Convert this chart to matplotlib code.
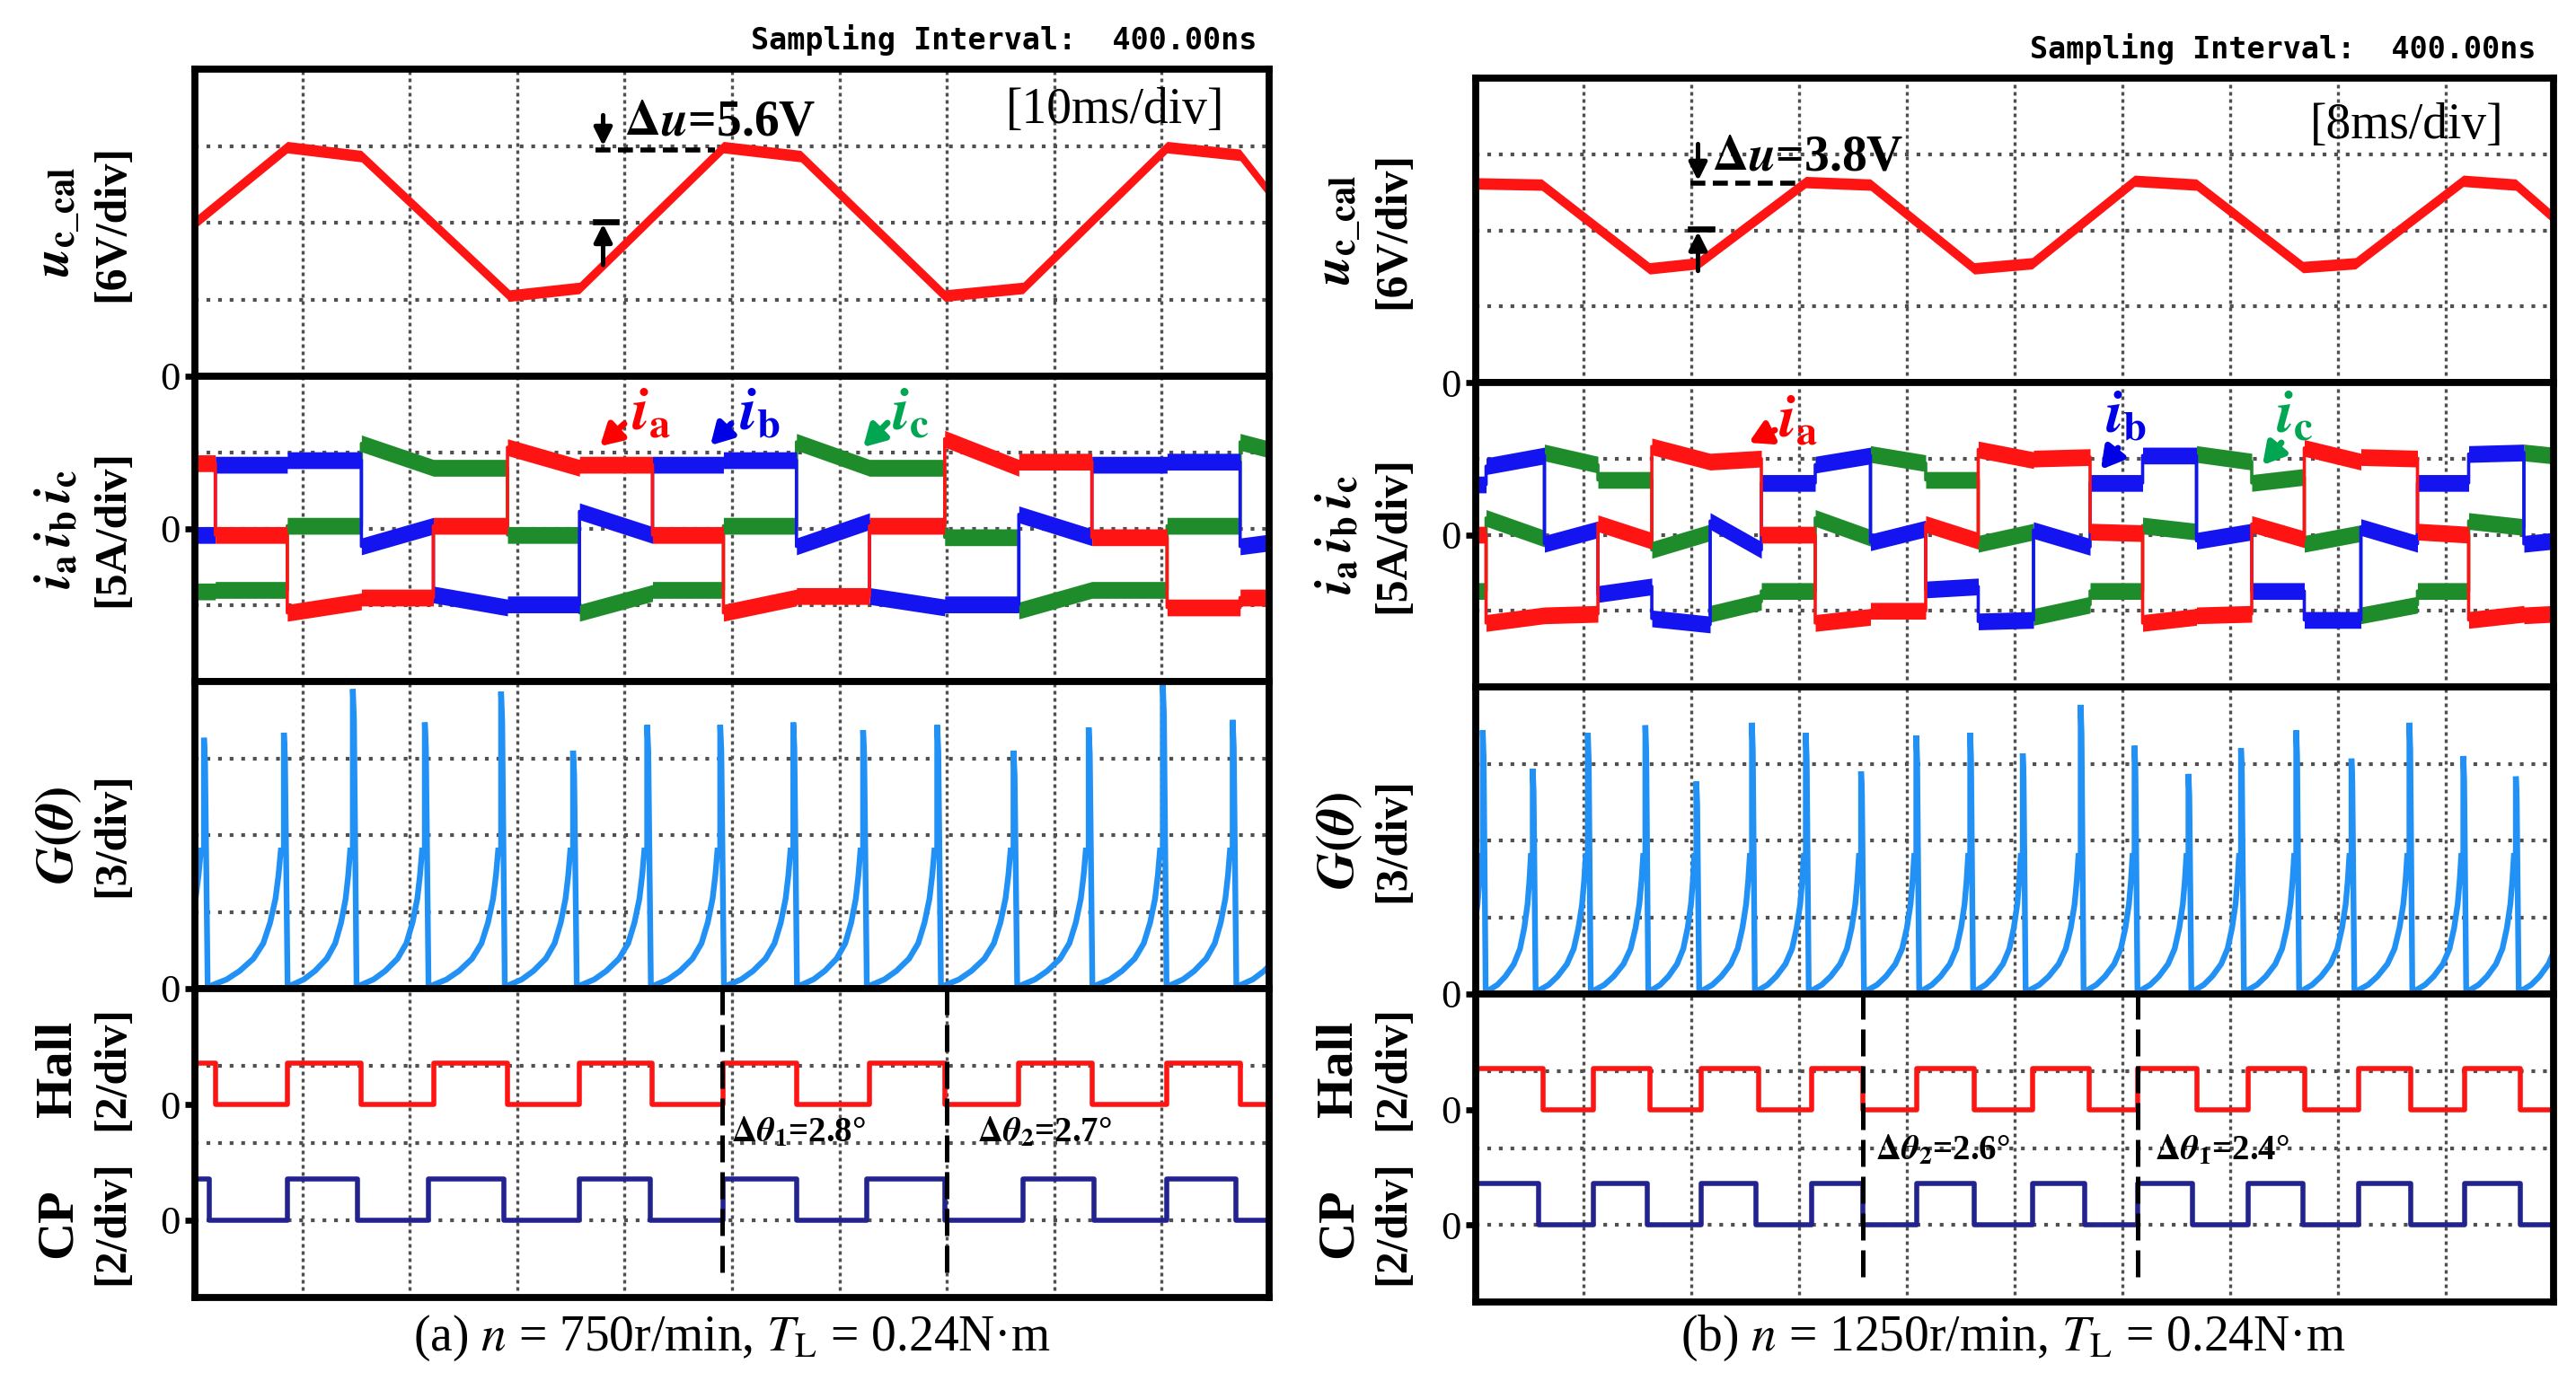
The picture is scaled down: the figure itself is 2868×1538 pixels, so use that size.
import matplotlib
matplotlib.use("Agg")
import matplotlib.pyplot as plt
import numpy as np

plt.rcParams['font.family'] = ['Liberation Serif', 'DejaVu Serif']
plt.rcParams['mathtext.fontset'] = 'stix'

W, H, DPI = 2868, 1538, 200

# ======================= DATA =======================
# ---- (a) n = 750 r/min, 10 ms/div, time in ms ----
a_tmax = 100
uc_a_t = [0, 8.6, 15.5, 29.3, 35.8, 49.2, 56.4, 69.8, 77.1, 90.5, 97.3, 100]
uc_a_v = [12.0, 17.9, 17.2, 6.3, 6.9, 17.9, 17.2, 6.3, 6.9, 17.9, 17.3, 14.4]

cur_a_edges = [1.9, 8.6, 15.5, 22.2, 29.1, 35.8, 42.6, 49.2, 56.0, 62.8, 69.8, 76.7, 83.5, 90.5, 97.3]
ia_a_start = [4.3, -0.4, -5.5, -4.5, 0.2, 5.35, 4.2, -0.4, -5.5, -4.4, 0.2, 5.9, 4.4, -0.55, -5.15, -4.5]
ia_a_end   = [4.3, -0.4, -4.75, -4.5, 0.2, 4.0, 4.2, -0.4, -4.5, -4.4, 0.2, 4.0, 4.4, -0.55, -5.15, -4.5]
ib_a_start = [-0.4, 4.2, 4.5, -1.15, -4.3, -4.95, 1.15, 4.2, 4.5, -1.15, -4.4, -4.95, 0.95, 4.2, 4.4, -1.15]
ib_a_end   = [-0.4, 4.2, 4.5, 0.2, -5.15, -4.95, -0.4, 4.2, 4.5, 0.5, -5.15, -4.95, -0.55, 4.2, 4.4, -0.9]
ic_a_start = [-4.1, -4.0, 0.2, 5.6, 4.0, -0.4, -5.5, -4.0, 0.2, 5.7, 4.0, -0.55, -5.35, -4.0, 0.2, 5.7]
ic_a_end   = [-4.1, -4.0, 0.2, 4.0, 4.0, -0.4, -4.2, -4.0, 0.2, 4.0, 4.0, -0.55, -4.0, -4.0, 0.2, 5.2]

g_a_spikes = [0.84, 8.28, 14.7, 21.4, 28.5, 35.2, 42.1, 48.9, 55.7, 62.2, 69.1, 76.2, 83.2, 90.1, 96.6]
g_a_peaks  = [9.8, 10.0, 11.7, 10.4, 11.6, 9.3, 10.3, 10.3, 10.4, 10.1, 10.3, 9.3, 10.2, 11.9, 10.5]

hall_a_edges  = [1.9, 8.6, 15.5, 22.2, 29.1, 35.8, 42.6, 49.2, 56.0, 62.8, 69.8, 76.7, 83.5, 90.5, 97.3]
hall_a_levels = [1.06, 0, 1.06, 0, 1.06, 0, 1.06, 0, 1.06, 0, 1.06, 0, 1.06, 0, 1.06, 0]
cp_a_edges    = [1.34, 8.61, 15.1, 21.7, 28.8, 35.8, 42.4, 49.2, 56.0, 62.5, 69.8, 77.1, 83.7, 90.5, 96.9]
cp_a_levels   = [1.08, 0, 1.08, 0, 1.08, 0, 1.08, 0, 1.08, 0, 1.08, 0, 1.08, 0, 1.08, 0]
dtheta_a_lines = [49.1, 70.0]
dtheta_a_text = [r'$\mathbf{\Delta}\mathbfit{\theta}_{\mathbf{1}}$=2.8°', r'$\mathbf{\Delta}\mathbfit{\theta}_{\mathbf{2}}$=2.7°']

# ---- (b) n = 1250 r/min, 8 ms/div ----
b_tmax = 80
uc_b_t = [0, 4.9, 12.9, 16.5, 24.5, 29.3, 37.0, 41.3, 48.9, 53.5, 61.4, 65.3, 73.3, 77.2, 80]
uc_b_v = [15.7, 15.6, 9.0, 9.4, 15.8, 15.6, 9.0, 9.4, 15.9, 15.6, 9.1, 9.4, 15.9, 15.6, 13.0]

cur_b_edges = [0.77, 5.1, 9.07, 13.07, 17.4, 21.2, 25.2, 29.3, 33.4, 37.3, 41.4, 45.6, 49.5, 53.5,
               57.6, 61.5, 65.7, 69.9, 73.7, 77.8]
ia_b_start = [0.0, -5.8, -5.3, 0.75, 5.8, 4.8, 0.0, -5.8, -5.0, 0.7, 5.6, 5.0, 0.2, -5.8, -5.3, 0.7, 5.7, 5.1, 0.2, -5.6, -5.3]
ia_b_end   = [0.0, -5.3, -5.2, -0.4, 4.8, 5.0, 0.0, -5.4, -5.0, -0.4, 4.9, 5.1, 0.1, -5.4, -5.2, -0.3, 4.8, 5.0, 0.0, -5.2, -5.2]
ib_b_start = [3.3, 4.5, -0.6, -3.9, -5.5, 0.9, 3.4, 4.6, -0.5, -3.6, -5.7, 0.3, 3.4, 5.2, -0.4, -3.7, -5.6, 0.5, 3.4, 5.3, -0.6]
ib_b_end   = [3.3, 5.2, 0.35, -3.4, -5.9, -1.0, 3.4, 5.2, 0.4, -3.4, -5.6, -0.8, 3.4, 5.2, 0.2, -3.7, -5.6, -0.6, 3.4, 5.4, -0.4]
ic_b_start = [-3.7, 1.1, 5.4, 3.6, -1.0, -5.2, -3.7, 1.1, 5.3, 3.6, -0.6, -5.4, -3.7, 0.6, 5.3, 3.4, -0.6, -5.3, -3.7, 0.9, 5.4]
ic_b_end   = [-3.7, -0.25, 4.6, 3.6, 0.15, -4.4, -3.7, -0.2, 4.7, 3.6, 0.2, -4.6, -3.7, 0.2, 4.8, 3.8, 0.1, -4.6, -3.7, 0.5, 5.2]

g_b_spikes = [0.52, 4.23, 8.32, 12.59, 16.37, 20.5, 24.5, 28.6, 32.7, 36.7, 40.6, 44.9, 48.9, 52.9,
              56.8, 60.9, 65.0, 69.3, 73.3, 77.2]
g_b_peaks  = [10.3, 8.8, 10.2, 10.5, 8.3, 10.6, 10.2, 8.7, 10.1, 10.2, 9.4, 11.3, 9.7, 8.6,
              9.6, 10.3, 9.2, 10.6, 9.3, 8.5]

hall_b_edges  = [4.97, 8.73, 12.9, 16.7, 21.0, 24.9, 28.7, 32.7, 37.0, 41.3, 45.5, 49.1, 53.5, 57.3,
                 61.5, 65.5, 69.4, 73.4, 77.5]
hall_b_levels = [1.06, 0] * 10
cp_b_edges    = [4.67, 8.73, 12.7, 16.7, 20.8, 24.9, 28.7, 32.7, 37.0, 41.3, 45.2, 49.1, 53.2, 57.3,
                 61.4, 65.5, 69.4, 73.4, 77.5]
cp_b_levels   = [1.08, 0] * 10
dtheta_b_lines = [28.7, 49.1]
dtheta_b_text = [r'$\mathbf{\Delta}\mathbfit{\theta}_{\mathbf{2}}$=2.6°', r'$\mathbf{\Delta}\mathbfit{\theta}_{\mathbf{1}}$=2.4°']

# G(theta) cycle shape (fraction of cycle, value)
g_shape_frac = [0.0, 0.07, 0.25, 0.42, 0.60, 0.73, 0.82, 0.89, 0.93, 0.96, 1.0]
g_shape_val  = [0.0, 0.15, 0.36, 0.69, 1.17, 1.77, 2.58, 3.51, 4.44, 5.4, 5.4]

# channel offsets in bottom panel (2/div): Hall zero at 2.5 div, CP zero at 1 div
HALL_OFF, CP_OFF = 5.0, 2.0

# ======================= STYLE =======================
C_RED = '#FF1414'
C_BLUE = '#1414F0'
C_GREEN = '#1E8C2A'
C_G = '#2191F5'
C_CP = '#23238F'
C_GRID = '#505050'

fig = plt.figure(figsize=(W / DPI, H / DPI), dpi=DPI)


def fx(x):
    return x / W


def fy(y):
    return 1 - y / H


def step_path(edges, tmax, starts, ends):
    b = [0.0] + list(edges) + [tmax]
    xs, ys = [], []
    for k in range(len(starts)):
        xs += [b[k], b[k + 1]]
        ys += [starts[k], ends[k]]
    return np.array(xs), np.array(ys)


def g_path(spikes, peaks, w):
    xs, ys = [], []
    prev = spikes[0] - (spikes[1] - spikes[0])
    for ts, pk in zip(spikes, peaks):
        start = prev + w
        for f, v in zip(g_shape_frac, g_shape_val):
            xs.append(start + f * (ts - start))
            ys.append(v)
        xs += [ts, ts + 0.3 * w, ts + w]
        ys += [pk, pk * 0.9, 0.0]
        prev = ts
    nxt = spikes[-1] + (spikes[-1] - spikes[-2])
    start = prev + w
    for f, v in zip(g_shape_frac, g_shape_val):
        xs.append(start + f * (nxt - start))
        ys.append(v)
    return np.array(xs), np.array(ys)


def style_axes(ax, tmax, ylim, zeros, ndiv_y=4):
    ax.set_xlim(0, tmax)
    ax.set_ylim(*ylim)
    for s in ax.spines.values():
        s.set_linewidth(2.8)
        s.set_color('black')
    ax.set_xticks([])
    ax.set_yticks(zeros)
    ax.set_yticklabels(['0'] * len(zeros), fontfamily='Liberation Serif', fontsize=16)
    ax.tick_params(axis='y', length=4, width=2.4, pad=2, direction='out')
    for k in range(1, 10):
        ax.axvline(tmax * k / 10, color=C_GRID, lw=1.2, ls=(0, (1.2, 1.2)), zorder=0.5)
    y0, y1 = ylim
    for k in range(1, ndiv_y):
        ax.axhline(y0 + (y1 - y0) * k / ndiv_y, color=C_GRID, lw=1.5, ls=(0, (1, 2.1)), zorder=0.5)
    ax.set_facecolor('white')


cols = [
    dict(left=217, right=1413, b=[77, 419, 759, 1101, 1445], tmax=a_tmax,
         uc_t=uc_a_t, uc_v=uc_a_v, edges=cur_a_edges,
         ia=(ia_a_start, ia_a_end), ib=(ib_a_start, ib_a_end), ic=(ic_a_start, ic_a_end),
         gs=g_a_spikes, gp=g_a_peaks, gw=0.35,
         he=hall_a_edges, hl=hall_a_levels, ce=cp_a_edges, cl=cp_a_levels,
         dl=dtheta_a_lines, dt=dtheta_a_text, dtx=[814, 1088], dty=1262,
         tdiv='[10ms/div]', tdiv_xy=(1363, 123),
         samp_xy=(1400, 44),
         cap=r'(a) $n$ = 750r/min, $T_{\rm L}$ = 0.24N·m', cap_x=815,
         du=dict(dash=(37.3, 48.4, 17.7), arr_t=38.0, down=(20.4, 18.0), tick=(37.3, 39.2, 12.1),
                 up=(8.7, 11.9), txt=(40.0, 19.8), label=r'$\mathbf{\Delta}\mathbfit{u}$=5.6V'),
         ilab=[((703, 462), (695, 472), (668, 497)), ((823, 462), (814, 472), (791, 496)),
               ((993, 462), (988, 471), (961, 498))]),
    dict(left=1643, right=2843, b=[87, 426, 765, 1107, 1450], tmax=b_tmax,
         uc_t=uc_b_t, uc_v=uc_b_v, edges=cur_b_edges,
         ia=(ia_b_start, ia_b_end), ib=(ib_b_start, ib_b_end), ic=(ic_b_start, ic_b_end),
         gs=g_b_spikes, gp=g_b_peaks, gw=0.22,
         he=hall_b_edges, hl=hall_b_levels, ce=cp_b_edges, cl=cp_b_levels,
         dl=dtheta_b_lines, dt=dtheta_b_text, dtx=[2088, 2399], dty=1282,
         tdiv='[8ms/div]', tdiv_xy=(2788, 140),
         samp_xy=(2824, 55),
         cap=r'(b) $n$ = 1250r/min, $T_{\rm L}$ = 0.24N·m', cap_x=2241,
         du=dict(dash=(15.9, 23.9, 15.7), arr_t=16.5, down=(18.8, 15.9), tick=(15.9, 17.5, 12.1),
                 up=(8.8, 11.9), txt=(17.5, 17.7), label=r'$\mathbf{\Delta}\mathbfit{u}$=3.8V'),
         ilab=[((1980, 470), (1976, 479), (1947, 493)), ((2344, 465), (2358, 499), (2339, 523)),
               ((2534, 465), (2540, 493), (2519, 518))]),
]

ilab_text = [r'$\mathbfit{i}_{\mathbf{a}}$', r'$\mathbfit{i}_{\mathbf{b}}$', r'$\mathbfit{i}_{\mathbf{c}}$']
ilab_col = ['#FF0000', '#0000E6', '#00A651']

for c in cols:
    L, R, B = c['left'], c['right'], c['b']
    axs = []
    for i in range(4):
        ax = fig.add_axes([fx(L), fy(B[i + 1]), fx(R - L), (B[i + 1] - B[i]) / H])
        axs.append(ax)
    ax_u, ax_i, ax_g, ax_h = axs
    tmax = c['tmax']

    # --- u_c_cal ---
    style_axes(ax_u, tmax, (0, 24), [0])
    t = np.array(c['uc_t'])
    v = np.array(c['uc_v'])
    ax_u.fill_between(t, v - 0.45, v + 0.45, color=C_RED, lw=0, zorder=2)
    ax_u.plot(t, v, color=C_RED, lw=1.2, zorder=2)
    du = c['du']
    ax_u.plot([du['dash'][0], du['dash'][1]], [du['dash'][2]] * 2, color='black', lw=2.0,
              ls=(0, (3, 1.5)), zorder=3)
    ax_u.plot([du['tick'][0], du['tick'][1]], [du['tick'][2]] * 2, color='black', lw=2.4, zorder=3)
    ax_u.annotate('', xy=(du['arr_t'], du['down'][1]), xytext=(du['arr_t'], du['down'][0]),
                  arrowprops=dict(arrowstyle='-|>,head_length=0.6,head_width=0.3', lw=1.8,
                                  color='black', shrinkA=0, shrinkB=0), zorder=4)
    ax_u.annotate('', xy=(du['arr_t'], du['up'][1]), xytext=(du['arr_t'], du['up'][0]),
                  arrowprops=dict(arrowstyle='-|>,head_length=0.6,head_width=0.3', lw=1.8,
                                  color='black', shrinkA=0, shrinkB=0), zorder=4)
    ax_u.text(du['txt'][0], du['txt'][1], du['label'], fontsize=20, fontweight='bold',
              ha='left', va='center', zorder=4)

    # --- currents ---
    style_axes(ax_i, tmax, (-10, 10), [0])
    for key, col in (('ic', C_GREEN), ('ib', C_BLUE), ('ia', C_RED)):
        xs, ys = step_path(c['edges'], tmax, c[key][0], c[key][1])
        ax_i.fill_between(xs, ys - 0.55, ys + 0.55, color=col, lw=0, zorder=2)
        ax_i.plot(xs, ys, color=col, lw=1.3, zorder=2)

    # --- G(theta) ---
    style_axes(ax_g, tmax, (0, 12), [0])
    gx, gy = g_path(c['gs'], c['gp'], c['gw'])
    ax_g.plot(gx, gy, color=C_G, lw=2.3, zorder=2, solid_joinstyle='miter')

    # --- Hall / CP ---
    style_axes(ax_h, tmax, (0, 8), [CP_OFF, HALL_OFF])
    hx, hy = step_path(c['he'], tmax, c['hl'], c['hl'])
    ax_h.plot(hx, HALL_OFF + hy, color=C_RED, lw=2.0, zorder=2)
    cx, cy = step_path(c['ce'], tmax, c['cl'], c['cl'])
    ax_h.plot(cx, CP_OFF + cy, color=C_CP, lw=2.0, zorder=2)
    for xl in c['dl']:
        ax_h.plot([xl, xl], [0.65, 8], color='black', lw=1.8, ls=(0, (6, 2.2)), zorder=3,
                  clip_on=False)
    for txt, xp in zip(c['dt'], c['dtx']):
        fig.text(fx(xp), fy(c['dty']), txt, fontsize=14, fontweight='bold', ha='left', va='center')

    # --- y labels ---
    mids = [(B[0] + B[1]) / 2, (B[1] + B[2]) / 2, (B[2] + B[3]) / 2, 1190, 1362]
    first = [r'$\mathbfit{u}_{\mathbf{c\_cal}}$',
             r'$\mathbfit{i}_{\mathbf{a}}\,\mathbfit{i}_{\mathbf{b}}\,\mathbfit{i}_{\mathbf{c}}$',
             r'$\mathbfit{G}\mathbf{(}\mathbfit{\theta}\mathbf{)}$', 'Hall', 'CP']
    second = ['[6V/div]', '[5A/div]', '[3/div]', '[2/div]', '[2/div]']
    for m, f1, s2 in zip(mids, first, second):
        fig.text(fx(L - 152), fy(m), f1, rotation=90, fontsize=21, fontweight='bold',
                 ha='center', va='center')
        fig.text(fx(L - 92), fy(m), s2, rotation=90, fontsize=18, fontweight='bold',
                 ha='center', va='center')

    # --- current labels ---
    for (tp, tail, tip), txt, col in zip(c['ilab'], ilab_text, ilab_col):
        fig.text(fx(tp[0]), fy(tp[1]), txt, fontsize=24, color=col, ha='left', va='center')
        ax_i.annotate('', xy=(fx(tip[0]), fy(tip[1])), xycoords='figure fraction',
                      xytext=(fx(tail[0]), fy(tail[1])), textcoords='figure fraction',
                      arrowprops=dict(arrowstyle='-|>,head_length=0.7,head_width=0.4', lw=2.5,
                                      color=col, shrinkA=0, shrinkB=0), zorder=5)

    # --- texts ---
    fig.text(fx(c['tdiv_xy'][0]), fy(c['tdiv_xy'][1]), c['tdiv'], fontsize=20, ha='right', va='center')
    fig.text(fx(c['samp_xy'][0]), fy(c['samp_xy'][1]), 'Sampling Interval:  400.00ns',
             family='DejaVu Sans Mono', fontsize=12, fontweight='bold', ha='right', va='center')
    fig.text(fx(c['cap_x']), fy(1490), c['cap'], fontsize=20, ha='center', va='center')

fig.savefig('out.png', dpi=DPI, facecolor='white')
